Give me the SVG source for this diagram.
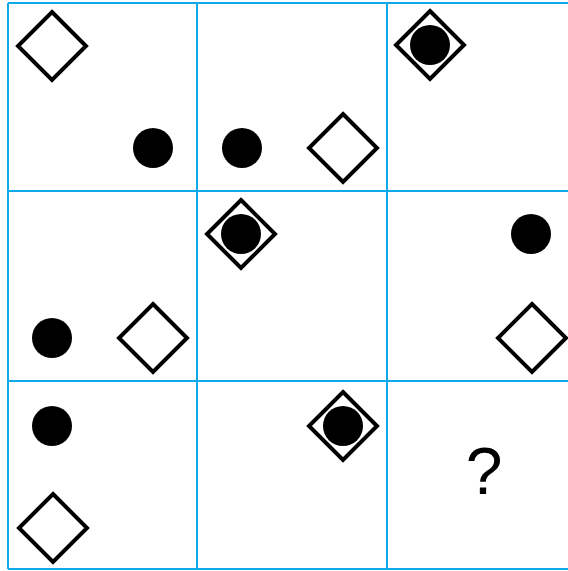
<svg xmlns="http://www.w3.org/2000/svg" width="568" height="571" viewBox="0 0 568 571">
<style>
.grid{stroke:#0fa8e8;stroke-width:2;fill:none}
.dia{fill:none;stroke:#000;stroke-width:4}
.dot{fill:#000}
.q{font-family:"Liberation Sans",Arial,sans-serif;font-size:66px;fill:#000;text-anchor:middle}
</style>
<defs>
<path id="d" d="M0,-34 L34,0 L0,34 L-34,0 Z"/>
</defs>
<rect width="568" height="571" fill="#fff"/>
<g id="grid" class="grid">
<line x1="8" y1="3" x2="568" y2="3"/>
<line x1="8" y1="191" x2="568" y2="191"/>
<line x1="8" y1="381" x2="568" y2="381"/>
<line x1="8" y1="569" x2="568" y2="569"/>
<line x1="8" y1="3" x2="8" y2="569"/>
<line x1="197" y1="3" x2="197" y2="569"/>
<line x1="387" y1="3" x2="387" y2="569"/>
</g>
<g id="cell-0-0"><use href="#d" class="dia" x="52" y="46"/><circle class="dot" cx="153" cy="148" r="20"/></g>
<g id="cell-0-1"><circle class="dot" cx="242" cy="148" r="20"/><use href="#d" class="dia" x="343" y="148"/></g>
<g id="cell-0-2"><use href="#d" class="dia" x="430" y="45"/><circle class="dot" cx="430" cy="45" r="20"/></g>
<g id="cell-1-0"><circle class="dot" cx="52" cy="338" r="20"/><use href="#d" class="dia" x="153" y="338"/></g>
<g id="cell-1-1"><use href="#d" class="dia" x="241" y="234"/><circle class="dot" cx="241" cy="234" r="20"/></g>
<g id="cell-1-2"><circle class="dot" cx="531" cy="234" r="20"/><use href="#d" class="dia" x="532" y="338"/></g>
<g id="cell-2-0"><circle class="dot" cx="52" cy="426" r="20"/><use href="#d" class="dia" x="53" y="528"/></g>
<g id="cell-2-1"><use href="#d" class="dia" x="343" y="426"/><circle class="dot" cx="343" cy="426" r="20"/></g>
<g id="cell-2-2"><text class="q" x="484" y="494">?</text></g>
</svg>
